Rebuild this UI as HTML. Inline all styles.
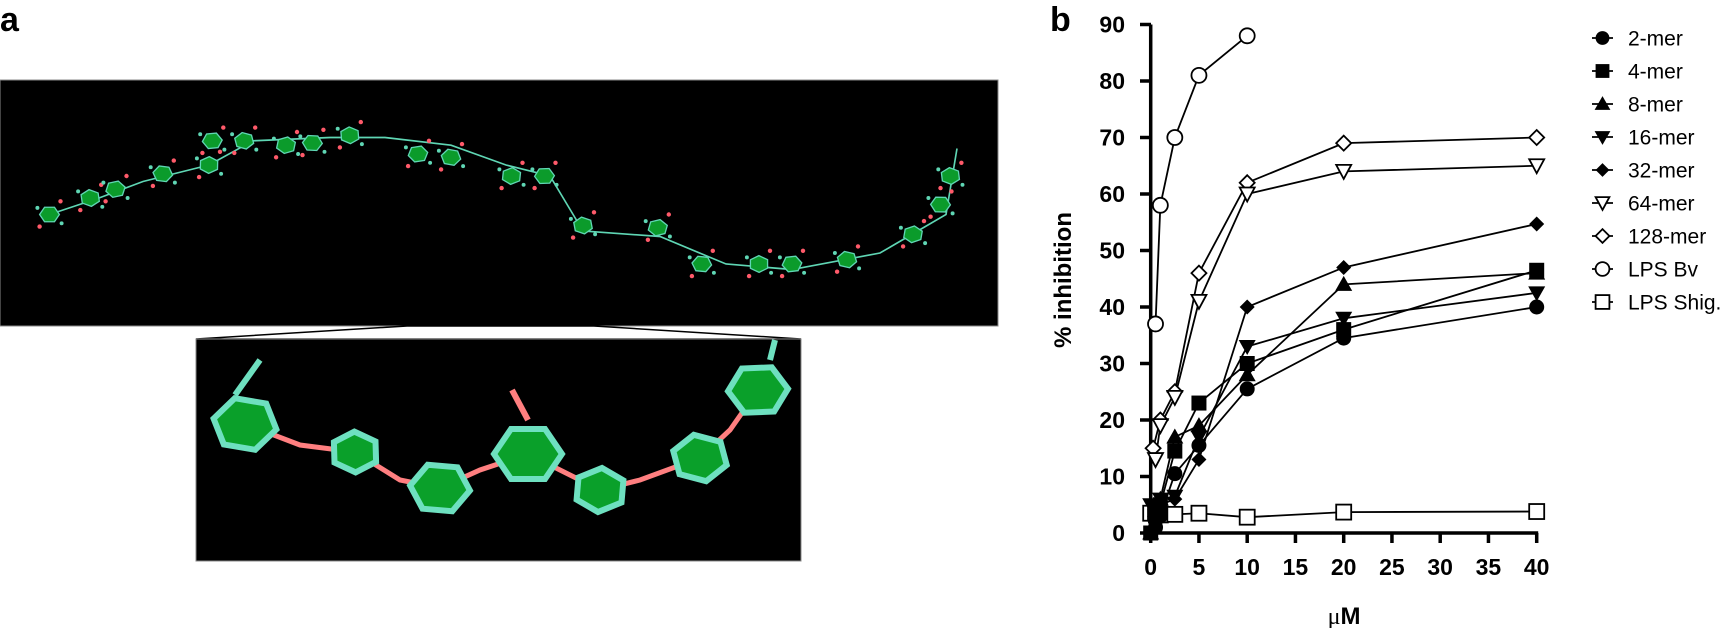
<!DOCTYPE html>
<html><head><meta charset="utf-8"><style>
html,body{margin:0;padding:0;background:#fff;width:1723px;height:628px;overflow:hidden}
svg{display:block}
text{font-family:"Liberation Sans",Arial,sans-serif}
</style></head><body>
<svg id="s" width="1723" height="628" viewBox="0 0 1723 628" xmlns="http://www.w3.org/2000/svg">
<text x="0" y="31" font-size="34" font-weight="bold">a</text>
<rect x="0" y="80" width="998" height="246" fill="#000" stroke="#888" stroke-width="1"/>
<polygon points="407,326 196,339 801,339 594,326" fill="none" stroke="#000" stroke-width="1.5"/>
<rect x="196" y="339" width="605" height="222" fill="#000" stroke="#888" stroke-width="1"/>
<g id="chain" transform="scale(1.1)"></g>
<g id="zoomg"></g>
<text x="1050" y="31" font-size="34" font-weight="bold">b</text>
<g id="chart"></g>
<text transform="translate(1071,280) rotate(-90)" text-anchor="middle" font-size="24" font-weight="bold">% inhibition</text>
<text x="1344" y="624" text-anchor="middle" font-size="24" font-weight="bold"><tspan font-family="Liberation Serif" font-weight="normal">μ</tspan>M</text>
</svg>
<script>
var NS="http://www.w3.org/2000/svg";
function el(p,t,a){var e=document.createElementNS(NS,t);for(var k in a)e.setAttribute(k,a[k]);p.appendChild(e);return e;}
function hex(p,cx,cy,r,rot,fill,stroke,sw){var pts=[];for(var i=0;i<6;i++){var a=rot+i*Math.PI/3;pts.push((cx+r*Math.cos(a)).toFixed(1)+","+(cy+r*Math.sin(a)*0.85).toFixed(1));}el(p,"polygon",{points:pts.join(" "),fill:fill,stroke:stroke,"stroke-width":sw});}
var ch=document.getElementById("chain");
var path=[[45,195],[90,180],[130,165],[190,150],[230,128],[300,125],[350,125],[410,132],[460,150],[500,160],[530,210],[600,215],[660,240],[720,245],[800,230],[860,195],[870,135]];
el(ch,"polyline",{points:path.map(function(p){return p.join(",")}).join(" "),fill:"none",stroke:"#5fd6b4","stroke-width":1.5});
var rings=[[45,195],[82,180],[105,172],[148,158],[190,150],[193,128],[222,128],[260,132],[284,130],[318,123],[380,140],[410,143],[465,160],[495,160],[530,205],[598,207],[638,240],[690,240],[720,240],[770,236],[830,213],[855,186],[864,160]];
rings.forEach(function(r,i){hex(ch,r[0],r[1],9,i*0.4,"#0b9b2b","#5fd6b4",1.2);
 el(ch,"circle",{cx:r[0]+10,cy:r[1]-12,r:2,fill:"#ff5a6a"});el(ch,"circle",{cx:r[0]-9,cy:r[1]+11,r:2,fill:"#ff5a6a"});
 el(ch,"circle",{cx:r[0]+11,cy:r[1]+8,r:1.8,fill:"#5fd6b4"});el(ch,"circle",{cx:r[0]-11,cy:r[1]-6,r:1.8,fill:"#5fd6b4"});});
var zg=document.getElementById("zoomg");
var zr=[[245,424,32,0.2],[355,452,24,0.5],[440,488,30,0.1],[528,454,34,0],[600,490,26,0.6],[700,458,28,0.3],[758,390,30,1.0]];
el(zg,"polyline",{points:"245,424 300,445 355,452 400,480 440,488 480,470 528,454 560,470 600,490 640,480 700,458 730,430 758,390",fill:"none",stroke:"#ff7f80","stroke-width":5});
zr.forEach(function(r){hex(zg,r[0],r[1],r[2],r[3],"#0aa02a","#6ee0c0",6);});
el(zg,"line",{x1:235,y1:395,x2:260,y2:360,stroke:"#6ee0c0","stroke-width":6});
el(zg,"line",{x1:528,y1:420,x2:512,y2:390,stroke:"#ff7f80","stroke-width":6});
el(zg,"line",{x1:770,y1:360,x2:775,y2:340,stroke:"#6ee0c0","stroke-width":6});
var c=document.getElementById("chart");
function X(v){return 1150.7+9.65*v;} function Y(v){return 533-5.65*v;}
el(c,"line",{x1:1150.7,y1:Y(90),x2:1150.7,y2:534.5,stroke:"#000","stroke-width":3.5});
el(c,"line",{x1:1149,y1:533,x2:X(40)+1.5,y2:533,stroke:"#000","stroke-width":3.5});
for(var v=0;v<=90;v+=10){el(c,"line",{x1:1140,y1:Y(v),x2:1151,y2:Y(v),stroke:"#000","stroke-width":3.5});
 var t=el(c,"text",{x:1125,y:Y(v)+8,"text-anchor":"end","font-size":"23","font-weight":"bold"});t.textContent=v;}
for(var v=0;v<=40;v+=5){el(c,"line",{x1:X(v),y1:533,x2:X(v),y2:543,stroke:"#000","stroke-width":3.5});
 var t=el(c,"text",{x:X(v),y:575,"text-anchor":"middle","font-size":"23","font-weight":"bold"});t.textContent=v;}
function mk(p,type,x,y,s){s=s||1;var r=7.5*s;
 switch(type){
 case"cf":el(p,"circle",{cx:x,cy:y,r:r,fill:"#000"});break;
 case"co":el(p,"circle",{cx:x,cy:y,r:r,fill:"#fff",stroke:"#000","stroke-width":1.8});break;
 case"sf":el(p,"rect",{x:x-r,y:y-r,width:2*r,height:2*r,fill:"#000"});break;
 case"so":el(p,"rect",{x:x-r,y:y-r,width:2*r,height:2*r,fill:"#fff",stroke:"#000","stroke-width":1.8});break;
 case"tu":el(p,"polygon",{points:[x,y-r-1,x+r+1,y+r-1,x-r-1,y+r-1].join(" "),fill:"#000"});break;
 case"td":el(p,"polygon",{points:[x,y+r+1,x+r+1,y-r+1,x-r-1,y-r+1].join(" "),fill:"#000"});break;
 case"tdo":el(p,"polygon",{points:[x,y+r,x+r,y-r+1,x-r,y-r+1].join(" "),fill:"#fff",stroke:"#000","stroke-width":1.8});break;
 case"df":el(p,"polygon",{points:[x,y-r,x+r,y,x,y+r,x-r,y].join(" "),fill:"#000"});break;
 case"do":el(p,"polygon",{points:[x,y-r,x+r,y,x,y+r,x-r,y].join(" "),fill:"#fff",stroke:"#000","stroke-width":1.8});break;}}
var S=[
["so",[[0,3.5],[0.5,3.5],[1,3.2],[2.5,3.3],[5,3.5],[10,2.8],[20,3.7],[40,3.8]]],
["co",[[0.5,37],[1,58],[2.5,70],[5,81],[10,88]]],
["do",[[0.25,15],[1,20],[2.5,25],[5,46],[10,62],[20,69],[40,70]]],
["tdo",[[0.5,13],[1,19],[2.5,24],[5,41],[10,60],[20,64],[40,65]]],
["df",[[0,0],[0.5,3],[1,5],[2.5,6],[5,13],[10,40],[20,47],[40,54.7]]],
["tu",[[0,0],[0.5,4],[1,6],[2.5,17],[5,19],[10,28],[20,44],[40,46]]],
["sf",[[0,0],[0.5,3],[1,5],[2.5,14.5],[5,23],[10,30],[20,36],[40,46.5]]],
["td",[[0,5],[0.5,3],[1,6],[2.5,6.5],[5,17],[10,33],[20,38],[40,42.5]]],
["cf",[[0,0],[0.5,1],[1,3],[2.5,10.5],[5,15.5],[10,25.5],[20,34.5],[40,40]]]];
S.forEach(function(s){el(c,"polyline",{points:s[1].map(function(p){return X(p[0])+","+Y(p[1])}).join(" "),fill:"none",stroke:"#000","stroke-width":1.8});});
S.forEach(function(s){s[1].forEach(function(p){mk(c,s[0],X(p[0]),Y(p[1]));});});
var L=[["cf","2-mer"],["sf","4-mer"],["tu","8-mer"],["td","16-mer"],["df","32-mer"],["tdo","64-mer"],["do","128-mer"],["co","LPS Bv"],["so","LPS Shig."]];
L.forEach(function(l,i){var y=38+i*33;el(c,"line",{x1:1592,y1:y,x2:1613,y2:y,stroke:"#000","stroke-width":1.8});mk(c,l[0],1602.5,y,0.92);
 var t=el(c,"text",{x:1628,y:y+7.5,"font-size":"21"});t.textContent=l[1];});
</script>
</body></html>
